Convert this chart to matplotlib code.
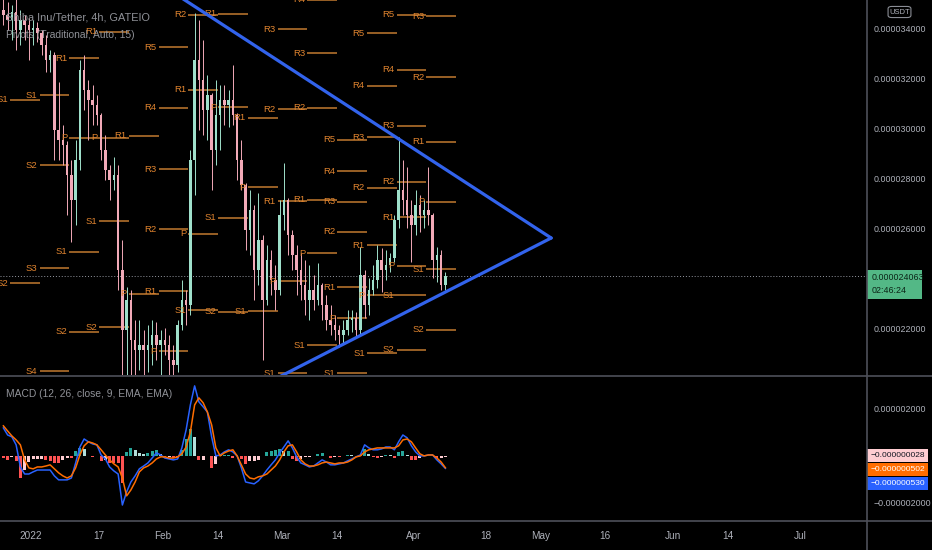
import numpy as np
import matplotlib.pyplot as plt
from matplotlib.lines import Line2D
from matplotlib.patches import Rectangle, FancyBboxPatch

plt.rcParams['font.family'] = ['Liberation Sans', 'DejaVu Sans']

# daily candles, day index counted from 2022-01-01, prices in units of 1e-6 USDT
day = list(range(-7, 98))
opens = [34.72, 34.52, 34.32, 34.64, 33.92, 34.32, 34.12,                    # Dec 25-31
         33.92, 34.00, 33.80, 33.32, 32.72, 32.92, 29.92, 29.52, 29.32, 28.12,
         27.12, 28.72, 32.32, 31.52, 31.12, 30.92, 30.52, 29.12, 28.32, 27.92,
         28.12, 24.32, 21.92, 23.12, 21.52, 21.12, 21.32, 21.12, 21.32, 21.72,
         21.32, 21.52, 21.32, 20.72, 20.52, 22.12, 23.12, 22.92, 28.72, 32.72,
         31.92, 30.72, 31.32, 29.12, 30.52, 31.12, 30.92, 31.12, 30.52, 28.72,
         27.72, 25.92, 26.72, 24.32, 25.52, 23.12, 24.72, 23.92, 23.52, 26.52,
         27.12, 25.72, 24.92, 24.32, 23.72, 23.12, 23.52, 23.12, 23.72, 22.92,
         22.32, 22.12, 21.92, 21.72, 21.92, 22.32, 22.40, 21.92, 24.12, 22.92,
         23.52, 23.92, 24.72, 24.32, 24.52, 24.80, 26.32, 27.52, 27.12, 26.52,
         26.12, 26.92, 26.52, 26.72, 26.52, 24.72, 24.92, 23.72]
highs = [35.40, 35.04, 34.92, 35.30, 34.72, 34.52, 34.40,
         34.32, 34.24, 33.92, 33.72, 33.12, 33.04, 31.84, 30.12, 29.50, 28.72,
         29.52, 32.72, 32.92, 31.92, 31.72, 31.32, 30.60, 29.72, 28.52, 28.84,
         28.52, 25.52, 23.64, 23.52, 22.32, 22.32, 21.92, 22.12, 22.32, 22.24,
         21.92, 22.00, 21.72, 21.32, 22.32, 23.92, 23.52, 29.12, 34.60, 34.32,
         33.52, 32.12, 31.40, 31.92, 31.72, 31.72, 31.52, 32.52, 30.60, 29.52,
         27.80, 27.52, 26.92, 27.40, 25.72, 25.32, 25.12, 24.52, 27.12, 28.60,
         27.20, 25.92, 25.32, 25.00, 24.72, 24.52, 24.12, 24.60, 23.80, 23.32,
         22.92, 22.52, 22.12, 22.32, 22.72, 22.72, 22.64, 25.24, 24.32, 24.00,
         24.52, 25.32, 25.20, 25.12, 25.00, 26.52, 29.64, 28.72, 28.44, 27.12,
         27.52, 27.32, 27.12, 28.44, 26.60, 25.24, 25.12, 24.24]
lows = [34.12, 33.92, 33.52, 33.12, 33.32, 33.52, 32.72,
        33.32, 33.44, 32.92, 32.24, 32.24, 28.72, 28.72, 28.52, 26.52, 25.44,
        26.12, 28.32, 30.72, 29.52, 30.12, 30.12, 28.72, 27.92, 27.12, 27.52,
        23.52, 19.52, 19.72, 19.92, 19.72, 20.32, 20.12, 20.24, 20.52, 20.72,
        20.00, 20.92, 20.00, 19.92, 20.24, 21.92, 22.12, 22.52, 27.32, 29.92,
        29.72, 29.52, 27.52, 28.52, 29.12, 30.12, 30.04, 30.12, 27.92, 27.52,
        25.12, 24.92, 23.12, 23.72, 20.72, 22.92, 23.32, 22.72, 23.32, 25.92,
        24.92, 24.32, 23.32, 23.12, 22.52, 22.32, 22.72, 22.92, 22.32, 21.92,
        21.72, 21.52, 21.24, 21.40, 21.72, 21.84, 21.60, 21.72, 22.40, 22.52,
        23.32, 23.60, 23.44, 23.92, 24.24, 24.64, 26.00, 26.52, 26.00, 24.64,
        25.72, 25.84, 26.00, 26.12, 24.00, 23.84, 23.52, 23.52]
closes = [34.52, 34.32, 34.64, 33.92, 34.32, 34.12, 33.92,
          34.00, 33.80, 33.32, 32.72, 32.92, 29.92, 29.52, 29.32, 28.12, 27.12,
          28.72, 32.32, 31.52, 31.12, 30.92, 30.52, 29.12, 28.32, 27.92, 28.12,
          24.32, 21.92, 23.12, 21.52, 21.12, 21.32, 21.12, 21.32, 21.72, 21.32,
          21.52, 21.32, 20.72, 20.52, 22.12, 23.12, 22.92, 28.72, 32.72, 31.92,
          30.72, 31.32, 29.12, 30.52, 31.12, 30.92, 31.12, 30.52, 28.72, 27.72,
          25.92, 26.72, 24.32, 25.52, 23.12, 24.72, 23.92, 23.52, 26.52, 27.12,
          25.72, 24.92, 24.32, 23.72, 23.12, 23.52, 23.12, 23.72, 22.92, 22.32,
          22.12, 21.92, 21.72, 21.92, 22.32, 22.40, 21.92, 24.12, 22.92, 23.52,
          23.92, 24.72, 24.32, 24.52, 24.80, 26.32, 27.52, 27.12, 26.52, 26.12,
          26.92, 26.52, 26.72, 26.52, 24.72, 24.92, 23.72, 24.063]

# MACD (12, 26, 9) lines, units of 1e-6
macd = [1.19, 0.89, 0.81, 0.47, -0.47, -0.77, -0.77,
        -0.68, -0.60, -0.60, -0.60, -0.60, -0.85, -1.02, -1.02, -1.02, -0.94,
        -0.30, 0.38, 0.72, 0.60, 0.51, 0.47, 0.04, -0.13, -0.47, -0.64,
        -0.77, -2.09, -1.53, -1.11, -0.85, -0.55, -0.43, -0.30, -0.09, 0.13,
        0.04, -0.09, -0.13, -0.17, -0.13, 0.34, 1.11, 2.17, 2.98, 2.30,
        2.09, 1.87, 0.81, 0.00, 0.04, 0.17, 0.26, 0.17, 0.00, -0.51,
        -1.11, -1.15, -1.19, -1.06, -0.85, -0.60, -0.38, -0.17, 0.13, 0.38,
        0.64, 0.34, -0.04, -0.30, -0.38, -0.47, -0.43, -0.30, -0.17, -0.26,
        -0.38, -0.38, -0.34, -0.30, -0.21, -0.13, -0.04, 0.04, 0.47, 0.34,
        0.26, 0.26, 0.30, 0.38, 0.38, 0.26, 0.60, 0.89, 0.77, 0.43,
        0.17, 0.00, 0.00, 0.04, 0.04, -0.17, -0.34, -0.530]
signal = [1.28, 1.06, 0.85, 0.68, 0.47, -0.17, -0.51,
          -0.55, -0.47, -0.47, -0.43, -0.38, -0.55, -0.72, -0.85, -0.94, -0.85,
          -0.51, 0.04, 0.43, 0.60, 0.55, 0.47, 0.26, 0.04, -0.17, -0.34,
          -0.47, -0.94, -1.70, -1.45, -1.11, -0.68, -0.51, -0.43, -0.30, -0.13,
          -0.04, -0.04, -0.09, -0.09, -0.04, 0.09, 0.38, 1.02, 2.17, 2.47,
          2.26, 1.87, 1.32, 0.34, 0.00, 0.13, 0.21, 0.26, 0.00, -0.38,
          -0.77, -0.94, -0.98, -0.89, -0.85, -0.77, -0.60, -0.43, -0.17, 0.17,
          0.43, 0.47, 0.17, -0.17, -0.34, -0.43, -0.43, -0.38, -0.30, -0.26,
          -0.30, -0.34, -0.30, -0.30, -0.26, -0.17, -0.04, 0.00, 0.17, 0.26,
          0.30, 0.34, 0.34, 0.34, 0.34, 0.34, 0.43, 0.68, 0.72, 0.60,
          0.34, 0.09, 0.00, 0.04, 0.04, -0.09, -0.26, -0.502]

# weekly traditional pivots: week start (Monday, day index), level name, value
piv_start = [-5, -5,
             2, 2, 2, 2,
             9, 9, 9, 9,
             16, 16, 16, 16,
             23, 23,
             30, 30, 30, 30, 30, 30,
             37, 37, 37, 37,
             44, 44, 44, 44,
             51, 51, 51,
             58, 58, 58, 58, 58,
             65, 65, 65, 65, 65, 65,
             72, 72, 72, 72, 72, 72, 72,
             79, 79, 79, 79, 79, 79, 79,
             86, 86, 86, 86, 86, 86, 86, 86,
             93, 93, 93, 93, 93, 93]
piv_name = ['S1', 'S2',
            'S1', 'S2', 'S3', 'S4',
            'R1', 'P', 'S1', 'S2',
            'R1', 'P', 'S1', 'S2',
            'R1', 'P',
            'R5', 'R4', 'R3', 'R2', 'R1', 'P',
            'R2', 'R1', 'P', 'S1',
            'R1', 'P', 'S1', 'S2',
            'R1', 'P', 'S1',
            'R3', 'R2', 'R1', 'P', 'S1',
            'R4', 'R3', 'R2', 'R1', 'P', 'S1',
            'R5', 'R4', 'R3', 'R2', 'R1', 'P', 'S1',
            'R5', 'R4', 'R3', 'R2', 'R1', 'P', 'S1',
            'R5', 'R4', 'R3', 'R2', 'R1', 'P', 'S1', 'S2',
            'R3', 'R2', 'R1', 'P', 'S1', 'S2']
piv_value = [31.12, 23.80,
             31.32, 28.52, 24.40, 20.28,
             32.80, 29.60, 25.04, 21.84,
             33.84, 29.60, 26.28, 22.04,
             29.68, 23.36,
             33.24, 30.80, 28.36, 25.96, 23.48, 21.08,
             34.52, 31.52, 25.76, 22.72,
             34.56, 30.84, 26.40, 22.64,
             30.40, 27.64, 22.68,
             33.96, 30.76, 27.08, 23.88, 20.20,
             35.12, 33.00, 30.80, 27.12, 25.00, 21.32,
             29.52, 28.28, 27.04, 25.84, 23.64, 22.40, 20.20,
             33.80, 31.68, 29.64, 27.60, 25.32, 23.32, 21.00,
             34.52, 32.32, 30.08, 27.84, 26.44, 24.48, 23.32, 21.12,
             34.48, 32.04, 29.44, 27.04, 24.36, 21.92]

# hand-drawn triangle (day, price)
tri_upper_x = [33.0, 122.4]
tri_upper_y = [35.47, 25.60]
tri_lower_x = [57.0, 122.4]
tri_lower_y = [19.92, 25.60]

last_price = 24.063
price_ticks = [22, 26, 28, 30, 32, 34]
macd_ticks = [-2, 2]
time_pos = [0, 16, 31, 44, 59, 72, 90, 107, 120, 135, 151, 164, 181]
time_lbl = ['2022', '17', 'Feb', '14', 'Mar', '14', 'Apr', '18', 'May', '16', 'Jun', '14', 'Jul']

W, H = 932, 550
BG = '#000000'
TXT = '#aeb1ba'
GRID = '#4e5059'
UP, DN = '#9fe0cb', '#f2aab8'
ORANGE = '#e0842f'
FS = 6.4


def fx(px):
    return px / W


def fy(py):
    return 1 - py / H


fig = plt.figure(figsize=(W / 100, H / 100), dpi=100, facecolor=BG)
ax = fig.add_axes([0, fy(375), fx(867), 375 / H])
ax2 = fig.add_axes([0, fy(521), fx(867), (521 - 376) / H], sharex=ax)
for a in (ax, ax2):
    a.set_facecolor(BG)
    for s in a.spines.values():
        s.set_visible(False)

xlo, xhi = -31 / 4.25, 836 / 4.25
ax.set_xlim(xlo, xhi)
ax.set_ylim(20.12, 35.12)
ax2.set_ylim(-2.77, 3.40)

# candles
x = np.array(day) + 0.5
o, h, l, c = map(np.array, (opens, highs, lows, closes))
col = np.where(c >= o, UP, DN)
ax.vlines(x, l, h, colors=col, lw=0.7, zorder=3)
ax.bar(x, np.maximum(np.abs(c - o), 0.05), bottom=np.minimum(o, c), width=0.55,
       color=col, zorder=3, linewidth=0)

# pivots
for st, nm, v in zip(piv_start, piv_name, piv_value):
    ax.plot([st, st + 7], [v, v], color='#c27a2f', lw=1.1, zorder=2, solid_capstyle='butt')
    ax.text(st - 0.45, v, nm, color=ORANGE, fontsize=6.8, ha='right', va='center',
            clip_on=True, zorder=4)

# triangle
ax.plot(tri_upper_x, tri_upper_y, color='#3263ec', lw=2.3, zorder=5, solid_capstyle='round')
ax.plot(tri_lower_x, tri_lower_y, color='#3263ec', lw=2.3, zorder=5, solid_capstyle='round')

# last price line
ax.axhline(last_price, color='#9598a1', lw=0.7, ls=(0, (1, 2)), zorder=1)

ax.yaxis.tick_right()
ax.set_yticks(price_ticks)
ax.set_yticklabels(['%.9f' % (v * 1e-6) for v in price_ticks])
ax.tick_params(axis='y', colors=TXT, labelsize=FS, length=0, pad=5)
ax.tick_params(axis='x', bottom=False, labelbottom=False)

ax.text(6 / 867, 1 - 17 / 375, 'Shiba Inu/Tether, 4h, GATEIO', transform=ax.transAxes,
        color='#909298', fontsize=7.8, va='center', ha='left', zorder=6)
ax.text(6 / 867, 1 - 35 / 375, 'Pivots (Traditional, Auto, 15)', transform=ax.transAxes,
        color='#909298', fontsize=7.4, va='center', ha='left', zorder=6)

# MACD pane
m, s = np.array(macd), np.array(signal)
hist = m - s
hcol = []
for i, hv in enumerate(hist):
    prev = hist[i - 1] if i > 0 else 0
    if hv >= 0:
        hcol.append('#26a69a' if hv > prev else '#b2dfdb')
    else:
        hcol.append('#ff5252' if hv < prev else '#ffcdd2')
ax2.bar(x, hist, width=0.75, color=hcol, linewidth=0, zorder=2)
ax2.plot(x, m, color='#2962ff', lw=1.1, zorder=3)
ax2.plot(x, s, color='#ff6d00', lw=1.1, zorder=3)
ax2.yaxis.tick_right()
ax2.set_yticks(macd_ticks)
ax2.set_yticklabels([('%.9f' % (v * 1e-6)).replace('-', '\u2212') for v in macd_ticks])
ax2.tick_params(axis='y', colors=TXT, labelsize=FS, length=0, pad=5)
ax2.set_xticks(time_pos)
ax2.set_xticklabels(time_lbl)
ax2.tick_params(axis='x', colors=TXT, labelsize=7.2, length=0, pad=7)
ax2.text(6 / 867, 1 - 18 / 145, 'MACD (12, 26, close, 9, EMA, EMA)', transform=ax2.transAxes,
         color='#909298', fontsize=7.4, va='center', ha='left')

# separators
for (x0, y0, x1, y1) in [(867, 0, 867, 550), (0, 376, 932, 376), (0, 521, 932, 521)]:
    fig.add_artist(Line2D([fx(x0), fx(x1)], [fy(y0), fy(y1)], color=GRID, lw=1.2,
                          transform=fig.transFigure))

# price scale badges
fig.add_artist(FancyBboxPatch((fx(889), fy(17)), fx(21), 10 / H,
                              boxstyle='round,pad=0.001,rounding_size=0.004',
                              ec='#8a8d95', fc=BG, lw=0.8, transform=fig.transFigure))
fig.text(fx(899.5), fy(12), 'USDT', color=TXT, fontsize=5.5, ha='center', va='center')

fig.add_artist(Rectangle((fx(867), fy(299)), fx(55), 29 / H, fc='#53b886', ec='none',
                         transform=fig.transFigure))
fig.text(fx(872), fy(277.5), '%.9f' % (last_price * 1e-6), color='#0b2416', fontsize=FS,
         ha='left', va='center')
fig.text(fx(872), fy(290.5), '02:46:24', color='#0b2416', fontsize=FS, ha='left', va='center')

badges = [(449, '#ffcdd2', '#131722', hist[-1]),
          (463, '#ff6d00', '#ffffff', signal[-1]),
          (477, '#2962ff', '#ffffff', macd[-1])]
for top, fc, tc, v in badges:
    fig.add_artist(Rectangle((fx(867), fy(top + 13)), fx(61), 13 / H, fc=fc, ec='none',
                             transform=fig.transFigure))
    fig.text(fx(897.5), fy(top + 6.5), ('%.9f' % (v * 1e-6)).replace('-', '\u2212'),
             color=tc, fontsize=6.0, ha='center', va='center')

fig.savefig('out.png', dpi=100, facecolor=BG)
